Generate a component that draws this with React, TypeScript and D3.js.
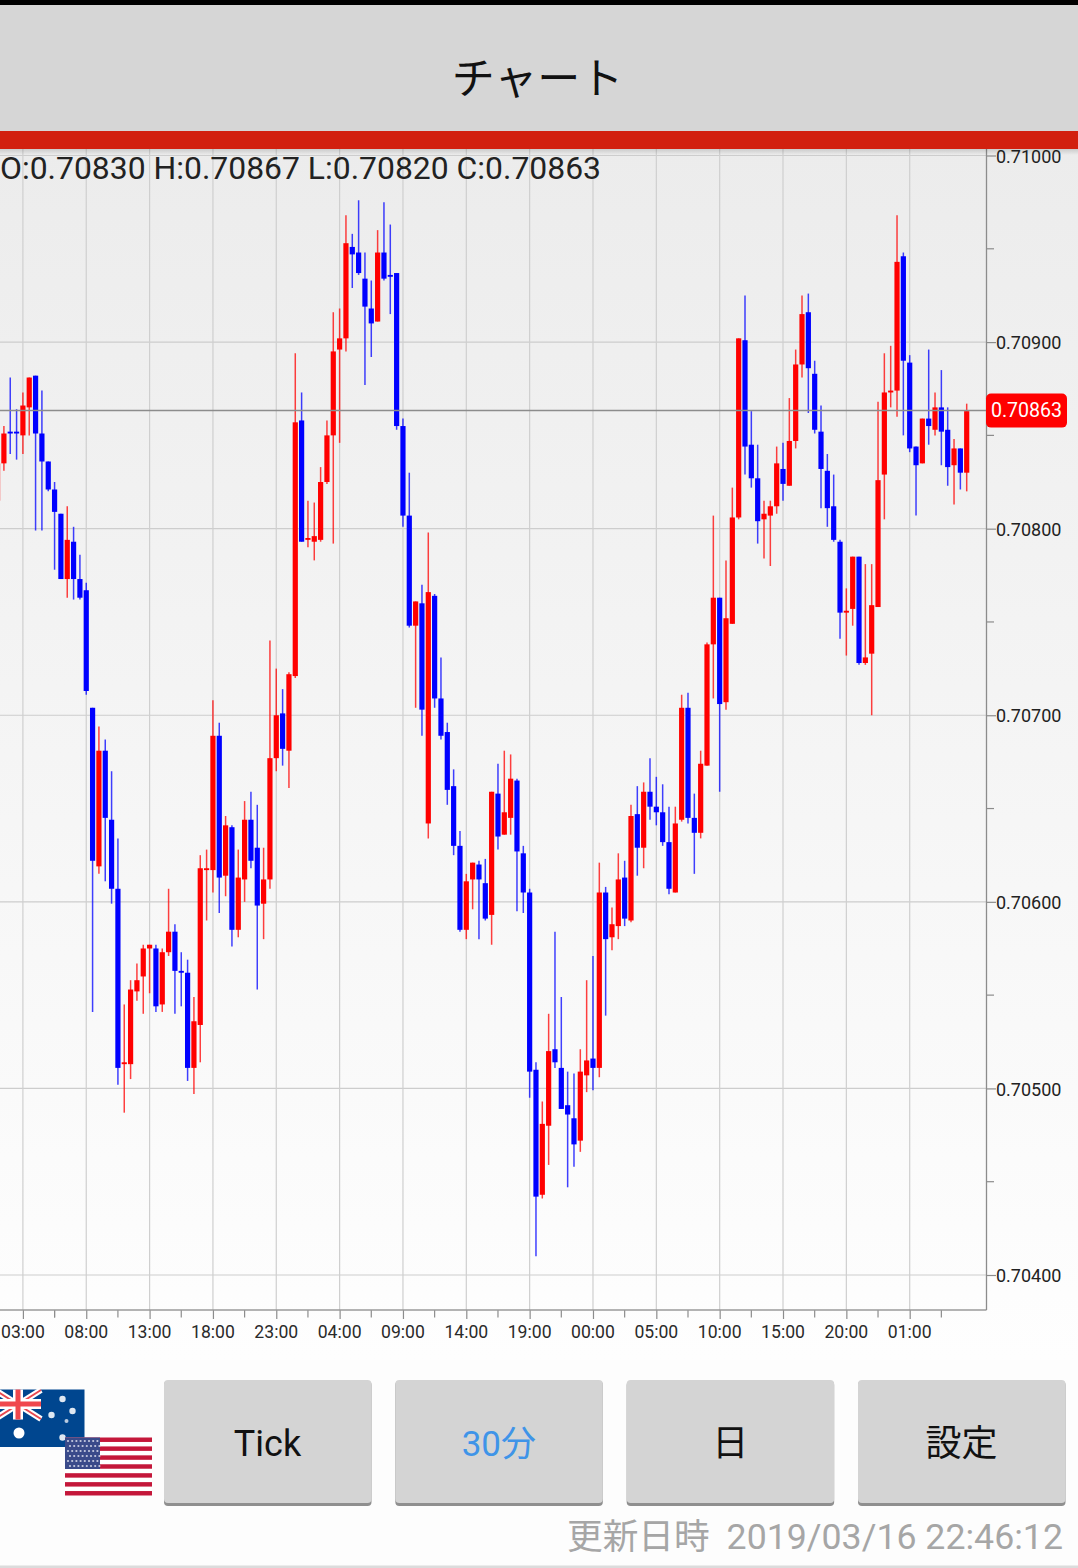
import React, { useEffect, useRef } from "react";
import * as d3 from "d3";

// AUD/USD 30 minute candles, in 1/100000 of a price unit
const opens = [
  70815, 70835, 70852, 70852, 70850, 70865, 70882, 70851, 70836, 70821, 70808, 70773, 70793, 70773, 70767, 70704,
  70619, 70681, 70644, 70607, 70513, 70513, 70552, 70560, 70575, 70575, 70545, 70573, 70584, 70563, 70562, 70511,
  70534, 70617, 70617, 70689, 70614, 70640, 70585, 70612, 70644, 70629, 70599, 70612, 70677, 70701, 70681, 70721,
  70858, 70794, 70793, 70794, 70825, 70850, 70896, 70902, 70951, 70948, 70934, 70918, 70911, 70948, 70936, 70937,
  70855, 70807, 70748, 70760, 70642, 70764, 70709, 70691, 70662, 70630, 70585, 70612, 70620, 70610, 70593, 70658,
  70636, 70645, 70665, 70626, 70605, 70510, 70443, 70480, 70521, 70511, 70491, 70484, 70472, 70507, 70516, 70511,
  70605, 70581, 70587, 70613, 70590, 70647, 70629, 70659, 70651, 70648, 70632, 70605, 70644, 70704, 70645, 70637,
  70673, 70738, 70763, 70707, 70749, 70806, 70901, 70845, 70827, 70805, 70807, 70812, 70832, 70823, 70847, 70888,
  70916, 70883, 70852, 70831, 70812, 70793, 70755, 70757, 70785, 70728, 70733, 70758, 70829, 70873, 70874, 70946,
  70889, 70844, 70835, 70859, 70853, 70865, 70853, 70834, 70843, 70830,
];
const highs = [
  70835, 70855, 70881, 70864, 70873, 70881, 70882, 70874, 70836, 70825, 70808, 70812, 70801, 70786, 70771, 70704,
  70694, 70687, 70670, 70634, 70545, 70558, 70567, 70577, 70577, 70577, 70575, 70607, 70588, 70573, 70569, 70549,
  70625, 70628, 70708, 70696, 70646, 70641, 70628, 70654, 70659, 70652, 70629, 70740, 70725, 70714, 70723, 70894,
  70873, 70815, 70814, 70833, 70858, 70916, 70918, 70968, 70958, 70976, 70948, 70933, 70960, 70975, 70963, 70937,
  70859, 70830, 70761, 70770, 70798, 70765, 70731, 70696, 70671, 70638, 70615, 70621, 70622, 70623, 70659, 70674,
  70681, 70679, 70666, 70630, 70607, 70514, 70493, 70540, 70584, 70549, 70509, 70508, 70521, 70558, 70571, 70621,
  70608, 70597, 70626, 70622, 70652, 70662, 70664, 70677, 70667, 70663, 70651, 70651, 70711, 70712, 70658, 70681,
  70739, 70807, 70763, 70783, 70822, 70902, 70925, 70863, 70845, 70815, 70815, 70844, 70846, 70870, 70896, 70925,
  70926, 70890, 70866, 70840, 70829, 70794, 70768, 70785, 70785, 70781, 70781, 70868, 70894, 70898, 70968, 70948,
  70893, 70844, 70859, 70896, 70873, 70885, 70865, 70848, 70843, 70867,
];
const lows = [
  70815, 70831, 70840, 70837, 70840, 70850, 70799, 70799, 70820, 70778, 70773, 70763, 70762, 70762, 70711, 70541,
  70615, 70611, 70599, 70502, 70487, 70505, 70547, 70540, 70551, 70541, 70541, 70571, 70540, 70544, 70504, 70497,
  70514, 70590, 70605, 70594, 70603, 70576, 70581, 70600, 70618, 70553, 70580, 70607, 70670, 70673, 70661, 70720,
  70793, 70790, 70783, 70793, 70824, 70792, 70846, 70895, 70929, 70936, 70877, 70892, 70911, 70933, 70915, 70853,
  70801, 70747, 70704, 70689, 70634, 70704, 70687, 70652, 70625, 70584, 70580, 70596, 70580, 70590, 70577, 70628,
  70636, 70636, 70595, 70594, 70495, 70410, 70441, 70459, 70511, 70489, 70447, 70458, 70466, 70498, 70499, 70506,
  70539, 70574, 70580, 70587, 70589, 70614, 70618, 70644, 70641, 70630, 70604, 70605, 70643, 70642, 70615, 70634,
  70673, 70709, 70659, 70703, 70749, 70805, 70829, 70822, 70792, 70784, 70780, 70808, 70815, 70823, 70843, 70881,
  70862, 70851, 70811, 70801, 70793, 70741, 70732, 70748, 70727, 70727, 70700, 70758, 70805, 70865, 70860, 70850,
  70841, 70807, 70835, 70845, 70850, 70834, 70823, 70813, 70821, 70820,
];
const closes = [
  70835, 70851, 70851, 70851, 70866, 70881, 70851, 70836, 70821, 70809, 70773, 70794, 70773, 70763, 70713, 70622,
  70681, 70645, 70607, 70511, 70514, 70553, 70558, 70575, 70577, 70544, 70573, 70584, 70563, 70562, 70511, 70536,
  70618, 70618, 70689, 70613, 70641, 70585, 70613, 70644, 70622, 70598, 70612, 70677, 70700, 70682, 70722, 70857,
  70793, 70795, 70796, 70825, 70850, 70895, 70902, 70953, 70947, 70937, 70919, 70910, 70948, 70934, 70935, 70855,
  70807, 70748, 70761, 70703, 70766, 70709, 70689, 70660, 70630, 70585, 70611, 70621, 70612, 70591, 70659, 70635,
  70648, 70666, 70627, 70605, 70509, 70442, 70481, 70520, 70514, 70489, 70486, 70470, 70509, 70515, 70511, 70605,
  70580, 70588, 70612, 70591, 70646, 70629, 70659, 70651, 70648, 70632, 70607, 70642, 70704, 70645, 70637, 70674,
  70738, 70763, 70706, 70752, 70806, 70902, 70844, 70827, 70804, 70808, 70812, 70835, 70824, 70847, 70888, 70915,
  70886, 70853, 70832, 70811, 70794, 70755, 70756, 70785, 70728, 70731, 70759, 70826, 70873, 70874, 70943, 70890,
  70843, 70834, 70859, 70855, 70865, 70852, 70833, 70843, 70830, 70863,
];
const priceTicks = [70400, 70500, 70600, 70700, 70800, 70900, 71000];
const minorPriceTicks = [70450, 70550, 70650, 70750, 70850, 70950];
const timeLabels = [
  "03:00", "08:00", "13:00", "18:00", "23:00", "04:00", "09:00", "14:00", "19:00", "00:00", "05:00", "10:00", "15:00", "20:00", "01:00",
];
const buttons = ["Tick", "30分", "日", "設定"];

const W = 1078;
const H = 1568;
const font = 'Roboto, "Noto Sans CJK JP", sans-serif';
const UP = "#ff0000";
const DOWN = "#0000ff";
const fmt = (v: number) => (v / 100000).toFixed(5);

const ChartArea = () => {
  const ref = useRef<SVGGElement | null>(null);

  useEffect(() => {
    const g = d3.select(ref.current);
    g.selectAll("*").remove();

    const x = d3.scaleLinear().domain([1, 154]).range([-2.43, 966.7]);
    const y = d3.scaleLinear().domain([70400, 71000]).range([1275, 155.5]);
    const axisX = 986.5;
    const axisY = 1310;
    const data = opens.map((o, i) => ({ i: i + 1, o, h: highs[i], l: lows[i], c: closes[i] }));
    const major = timeLabels.map((_, k) => 5 + k * 10);
    const minor = [10, ...timeLabels.map((_, k) => 10 + k * 10)];

    // grid
    g.append("g")
      .selectAll("line")
      .data(priceTicks)
      .enter()
      .append("line")
      .attr("x1", 0)
      .attr("x2", axisX)
      .attr("y1", (d) => y(d))
      .attr("y2", (d) => y(d))
      .attr("stroke", "#cdcdcd")
      .attr("stroke-width", 1.2);
    g.append("g")
      .selectAll("line")
      .data(major)
      .enter()
      .append("line")
      .attr("x1", (d) => x(d))
      .attr("x2", (d) => x(d))
      .attr("y1", 149)
      .attr("y2", axisY)
      .attr("stroke", "#cfcfcf")
      .attr("stroke-width", 1.2);

    // candles
    const candles = g.append("g").selectAll("g").data(data).enter().append("g");
    candles
      .append("line")
      .attr("x1", (d) => x(d.i))
      .attr("x2", (d) => x(d.i))
      .attr("y1", (d) => y(d.h))
      .attr("y2", (d) => y(d.l))
      .attr("stroke", (d) => (d.c >= d.o ? UP : DOWN))
      .attr("stroke-opacity", 0.75)
      .attr("stroke-width", 1.5);
    candles
      .append("rect")
      .attr("x", (d) => x(d.i) - 2.6)
      .attr("width", 5.2)
      .attr("y", (d) => y(Math.max(d.o, d.c)))
      .attr("height", (d) => Math.abs(y(d.o) - y(d.c)))
      .attr("fill", (d) => (d.c >= d.o ? UP : DOWN));

    // last price line
    const last = closes[closes.length - 1];
    g.append("line")
      .attr("x1", 0)
      .attr("x2", axisX)
      .attr("y1", y(last) - 0.7)
      .attr("y2", y(last) - 0.7)
      .attr("stroke", "#8c8c8c")
      .attr("stroke-width", 1.5);

    // right axis
    const right = g.append("g").attr("transform", `translate(${axisX},0)`);
    right.call(
      d3
        .axisRight(y)
        .tickValues(priceTicks)
        .tickSize(9.5)
        .tickPadding(0)
        .tickFormat((d) => fmt(d as number)) as any
    );
    right
      .selectAll("text")
      .attr("font-family", font)
      .attr("font-size", 18)
      .attr("fill", "#222")
      .attr("x", 9.5)
      .attr("dy", "0.37em");
    right.selectAll("line").attr("stroke", "#8c8c8c").attr("stroke-width", 1.2);
    right.select(".domain").remove();
    right
      .selectAll("line.minor")
      .data(minorPriceTicks)
      .enter()
      .append("line")
      .attr("class", "minor")
      .attr("x2", 7.5)
      .attr("y1", (d) => y(d))
      .attr("y2", (d) => y(d))
      .attr("stroke", "#8c8c8c")
      .attr("stroke-width", 1.2);

    // bottom axis
    const bottom = g.append("g").attr("transform", `translate(0,${axisY})`);
    bottom.call(
      d3
        .axisBottom(x)
        .tickValues(major)
        .tickSize(9)
        .tickPadding(6.5)
        .tickFormat((_, k) => timeLabels[k]) as any
    );
    bottom
      .selectAll("text")
      .attr("font-family", font)
      .attr("font-size", 17.6)
      .attr("fill", "#2a2a2a")
      .attr("dx", -0.5);
    bottom.selectAll("line").attr("stroke", "#8c8c8c").attr("stroke-width", 1.2);
    bottom.select(".domain").remove();
    bottom
      .selectAll("line.minor")
      .data(minor)
      .enter()
      .append("line")
      .attr("class", "minor")
      .attr("x1", (d) => x(d))
      .attr("x2", (d) => x(d))
      .attr("y2", 7.5)
      .attr("stroke", "#8c8c8c")
      .attr("stroke-width", 1.2);

    g.append("line").attr("x1", 0).attr("x2", axisX).attr("y1", axisY).attr("y2", axisY).attr("stroke", "#9a9a9a").attr("stroke-width", 1.3);
    g.append("line").attr("x1", axisX).attr("x2", axisX).attr("y1", 149).attr("y2", axisY).attr("stroke", "#8c8c8c").attr("stroke-width", 1.3);

    // price tag
    g.append("rect").attr("x", 986).attr("y", y(last) - 17.5).attr("width", 81).attr("height", 34).attr("rx", 5).attr("fill", "#ff0000");
    g.append("text")
      .attr("x", 1026.5)
      .attr("y", y(last) + 6)
      .attr("text-anchor", "middle")
      .attr("font-family", font)
      .attr("font-size", 19.6)
      .attr("fill", "#fff")
      .text(fmt(last));
  }, []);

  return <g ref={ref} />;
};

const Flags = () => (
  <g>
    <g>
      <rect x={-5} y={1389.5} width={89.5} height={57.5} fill="#00468f" />
      <g stroke="#fff" strokeWidth={6}>
        <line x1={-5} y1={1390} x2={41} y2={1419} />
        <line x1={41} y1={1390} x2={-5} y2={1419} />
      </g>
      <g stroke="#e8484f" strokeWidth={2}>
        <line x1={-5} y1={1390} x2={41} y2={1419} />
        <line x1={41} y1={1390} x2={-5} y2={1419} />
      </g>
      <rect x={-5} y={1399} width={46} height={10} fill="#fff" />
      <rect x={13} y={1389.5} width={10} height={30} fill="#fff" />
      <rect x={-5} y={1401.5} width={46} height={5} fill="#f0474d" />
      <rect x={15.5} y={1389.5} width={5} height={30} fill="#f0474d" />
      <circle cx={19} cy={1433} r={5.5} fill="#fff" />
      <circle cx={62.5} cy={1399} r={3.2} fill="#dfe8f2" />
      <circle cx={51.5} cy={1415} r={3.2} fill="#dfe8f2" />
      <circle cx={72.5} cy={1411} r={3.2} fill="#dfe8f2" />
      <circle cx={66.5} cy={1421} r={2} fill="#b9cbe0" />
      <circle cx={62.5} cy={1437.5} r={3.2} fill="#dfe8f2" />
    </g>
    <g>
      <rect x={65} y={1437.5} width={87} height={58} fill="#fff" />
      {d3.range(0, 13, 2).map((s) => (
        <rect key={s} x={65} y={1437.5 + (s * 58) / 13} width={87} height={58 / 13} fill="#c4173a" />
      ))}
      <rect x={65} y={1437.5} width={35} height={31.5} fill="#3a4a8a" />
      {d3.range(0, 6).map((r) =>
        d3.range(0, 8).map((c) => (
          <circle key={`${r}-${c}`} cx={68 + c * 4.2 + (r % 2) * 2} cy={1441 + r * 5} r={1.1} fill="#c8cce0" />
        ))
      )}
    </g>
  </g>
);

export default function App() {
  const buttonX = d3.scalePoint<string>().domain(buttons).range([164, 858]);
  return (
    <svg width={W} height={H} style={{ position: "absolute", left: 0, top: 0 }}>
      <defs>
        <linearGradient id="page" x1="0" y1="0" x2="0" y2="1">
          <stop offset="0" stopColor="#ececec" />
          <stop offset="1" stopColor="#fefefe" />
        </linearGradient>
        <linearGradient id="shade" x1="0" y1="0" x2="0" y2="1">
          <stop offset="0" stopColor="#000" stopOpacity={0.14} />
          <stop offset="1" stopColor="#000" stopOpacity={0} />
        </linearGradient>
      </defs>
      <rect width={W} height={H} fill="#fdfdfd" />
      <rect y={149} width={W} height={1211} fill="url(#page)" />
      <ChartArea />
      <rect y={149} width={W} height={6} fill="url(#shade)" />
      <rect width={W} height={5} fill="#000" />
      <rect y={5} width={W} height={126} fill="#d6d6d6" />
      <rect y={131} width={W} height={18} fill="#d2200f" />
      <text x={537.5} y={94} textAnchor="middle" fontFamily={font} fontSize={43} fill="#111">
        チャート
      </text>
      <text x={0} y={179} fontFamily={font} fontSize={31.9} fill="#222">
        O:0.70830 H:0.70867 L:0.70820 C:0.70863
      </text>

      <Flags />
      {buttons.map((b) => (
        <g key={b}>
          <rect x={buttonX(b)} y={1381} width={207.5} height={125} rx={4} fill="#8f8f8f" />
          <rect x={buttonX(b)} y={1380} width={207.5} height={123} rx={4} fill="#d4d4d4" />
          <text
            x={(buttonX(b) as number) + 103.5}
            y={1456}
            textAnchor="middle"
            fontFamily={font}
            fontSize={b === "30分" ? 35 : 36}
            fill={b === "30分" ? "#3f94e8" : "#111"}
          >
            {b}
          </text>
        </g>
      ))}
      <text x={1063} y={1549} textAnchor="end" fontFamily={font} fontSize={35.7} fill="#a6a6a6">
        更新日時<tspan dx={8}> 2019/03/16 22:46:12</tspan>
      </text>
      <rect y={1565.5} width={W} height={2.5} fill="#dcdcdc" />
    </svg>
  );
}
